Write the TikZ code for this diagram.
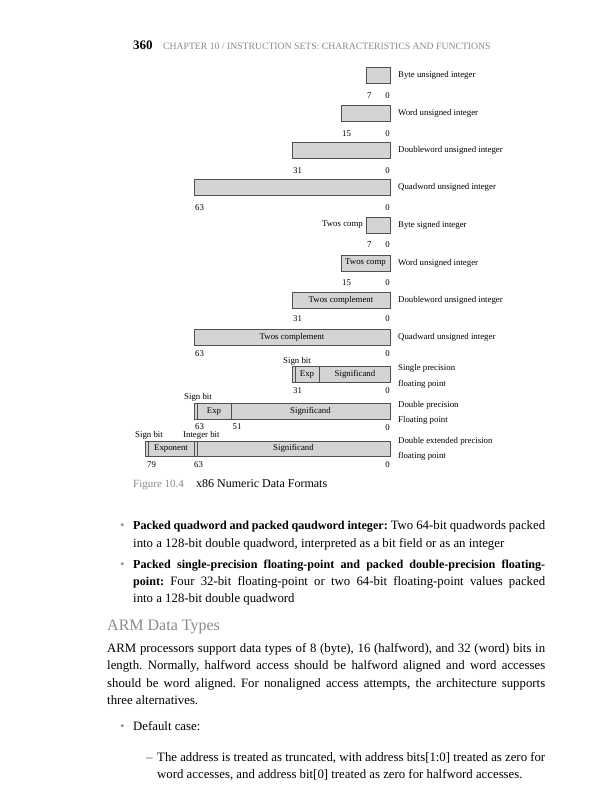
\documentclass[tikz,border=0pt]{standalone}
\usepackage{fontspec}
\setmainfont{Liberation Serif}
\frenchspacing
\definecolor{barfill}{HTML}{D4D4D4}
\definecolor{barline}{HTML}{505050}
\definecolor{headgray}{HTML}{8A8A8A}
\definecolor{bulgray}{HTML}{9A9A9A}
\newcommand\figlbl{\fontsize{8.8}{15.5}\selectfont}
\newcommand\bodytxt{\fontsize{12.8}{17.5}\selectfont}
\newcommand\bt[1]{{\fontsize{12.1}{17.5}\selectfont\bfseries #1}}
\begin{document}
\begin{tikzpicture}[x=1pt,y=-1pt,
  bar/.style={draw=barline, fill=barfill, line width=0.6pt, inner sep=0pt, outer sep=0pt, minimum height=16pt, anchor=north east, font=\figlbl},
  num/.style={inner sep=0pt, font=\figlbl, anchor=base west},
  numr/.style={inner sep=0pt, font=\figlbl, anchor=base east},
  desc/.style={inner sep=0pt, font=\figlbl, anchor=west, align=left},
  inlbl/.style={inner sep=0pt, font=\figlbl},
  divline/.style={draw=barline, line width=0.6pt},
  body/.style={inner sep=0pt, anchor=base west, font=\bodytxt},
  bul/.style={inner sep=0pt, anchor=base west, font=\fontsize{13}{14}\selectfont, text=bulgray}
]
\useasboundingbox (0,0) rectangle (604,800);
\fill[white] (0,0) rectangle (604,800);

% header
\node[inner sep=0pt, anchor=base west, font=\bfseries\fontsize{13}{15}\selectfont] (pg) at (133,49) {360};
\node[inner sep=0pt, anchor=base west, text=headgray, font=\fontsize{9.7}{11}\selectfont] (chap) at (163,49) {CHAPTER 10 / INSTRUCTION SETS: CHARACTERISTICS AND FUNCTIONS};

% unsigned integers
\node[bar, minimum width=24pt] (r1) at (390,67) {};
\node[num] (r1a) at ([shift={(1,15)}]r1.south west) {7};
\node[numr] (r1b) at ([shift={(0,15)}]r1.south east) {0};
\node[desc] (r1d) at ([xshift=8pt]r1.east) {Byte unsigned integer};

\node[bar, minimum width=49pt] (r2) at (390,105) {};
\node[num] (r2a) at ([shift={(1,15)}]r2.south west) {15};
\node[numr] (r2b) at ([shift={(0,15)}]r2.south east) {0};
\node[desc] (r2d) at ([xshift=8pt]r2.east) {Word unsigned integer};

\node[bar, minimum width=98pt] (r3) at (390,142) {};
\node[num] (r3a) at ([shift={(1,15)}]r3.south west) {31};
\node[numr] (r3b) at ([shift={(0,15)}]r3.south east) {0};
\node[desc] (r3d) at ([xshift=8pt]r3.east) {Doubleword unsigned integer};

\node[bar, minimum width=196pt] (r4) at (390,179) {};
\node[num] (r4a) at ([shift={(1,15)}]r4.south west) {63};
\node[numr] (r4b) at ([shift={(0,15)}]r4.south east) {0};
\node[desc] (r4d) at ([xshift=8pt]r4.east) {Quadword unsigned integer};

% signed integers
\node[bar, minimum width=24pt] (r5) at (390,217) {};
\node[inlbl, anchor=east] (r5t) at ([xshift=-3pt]r5.west) {Twos comp};
\node[num] (r5a) at ([shift={(1,14)}]r5.south west) {7};
\node[numr] (r5b) at ([shift={(0,14)}]r5.south east) {0};
\node[desc] (r5d) at ([xshift=8pt]r5.east) {Byte signed integer};

\node[bar, minimum width=49pt] (r6) at (390,255) {Twos comp};
\node[num] (r6a) at ([shift={(1,14)}]r6.south west) {15};
\node[numr] (r6b) at ([shift={(0,14)}]r6.south east) {0};
\node[desc] (r6d) at ([xshift=8pt]r6.east) {Word unsigned integer};

\node[bar, minimum width=98pt] (r7) at (390,292) {Twos complement};
\node[num] (r7a) at ([shift={(1,13.5)}]r7.south west) {31};
\node[numr] (r7b) at ([shift={(0,13.5)}]r7.south east) {0};
\node[desc] (r7d) at ([xshift=8pt]r7.east) {Doubleword unsigned integer};

\node[bar, minimum width=196pt] (r8) at (390,329.5) {Twos complement};
\node[num] (r8a) at ([shift={(1,11)}]r8.south west) {63};
\node[numr] (r8b) at ([shift={(0,11)}]r8.south east) {0};
\node[desc] (r8d) at ([xshift=8pt]r8.east) {Quadward unsigned integer};

% single precision
\node[bar, minimum width=98pt, minimum height=15.5pt] (r9) at (390,366.5) {};
\draw[divline] ([xshift=3pt]r9.north west) -- ([xshift=3pt]r9.south west);
\draw[divline] ([xshift=-70.5pt]r9.north east) -- ([xshift=-70.5pt]r9.south east);
\node[inlbl] (r9e) at (307,374.25) {Exp};
\node[inlbl] (r9s) at (355,374.25) {Significand};
\node[num] (r9sb) at (283,363) {Sign bit};
\node[num] (r9a) at ([shift={(1,11)}]r9.south west) {31};
\node[numr] (r9b) at ([shift={(0,11)}]r9.south east) {0};
\node[desc] (r9d) at ([xshift=8pt,yshift=-2pt]r9.east) {Single precision\\floating point};

% double precision
\node[bar, minimum width=196pt, minimum height=15.5pt] (r10) at (390,403.5) {};
\draw[divline] ([xshift=3pt]r10.north west) -- ([xshift=3pt]r10.south west);
\draw[divline] ([xshift=-159pt]r10.north east) -- ([xshift=-159pt]r10.south east);
\node[inlbl] (r10e) at (214,411.25) {Exp};
\node[inlbl] (r10s) at (310.5,411.25) {Significand};
\node[num] (r10sb) at (184,399.5) {Sign bit};
\node[num] (r10a) at ([shift={(1,10)}]r10.south west) {63};
\node[num] (r10c) at (232.5,429) {51};
\node[numr] (r10b) at ([shift={(0,11)}]r10.south east) {0};
\node[desc] (r10d) at ([xshift=8pt,yshift=-1.5pt]r10.east) {Double precision\\Floating point};

% double extended precision
\node[bar, minimum width=245pt, minimum height=15.5pt] (r11) at (390,441) {};
\draw[divline] ([xshift=3pt]r11.north west) -- ([xshift=3pt]r11.south west);
\draw[divline] ([xshift=-196pt]r11.north east) -- ([xshift=-196pt]r11.south east);
\draw[divline] ([xshift=-193pt]r11.north east) -- ([xshift=-193pt]r11.south east);
\node[inlbl] (r11e) at (171,448.75) {Exponent};
\node[inlbl] (r11s) at (293.5,448.75) {Significand};
\node[num] (r11sb) at (135,437.5) {Sign bit};
\node[num] (r11ib) at (183,437.5) {Integer bit};
\node[num] (r11a) at ([shift={(2,11)}]r11.south west) {79};
\node[num] (r11c) at (194,467.5) {63};
\node[numr] (r11b) at ([shift={(0,11)}]r11.south east) {0};
\node[desc] (r11d) at ([xshift=8pt]r11.east) {Double extended precision\\floating point};

% caption
\node[inner sep=0pt, anchor=base west, text=headgray, font=\fontsize{11}{13}\selectfont] (fig) at (133,487.5) {Figure 10.4};
\node[inner sep=0pt, anchor=base west, font=\fontsize{12}{14}\selectfont] (cap) at (196,487.5) {x86 Numeric Data Formats};

% bullets
\node[bul] (b1) at (120,529) {\textbullet};
\node[body] (l1) at (133,529) {\makebox[412pt][s]{\bt{Packed quadword and packed qaudword integer:} Two 64-bit quadwords packed}};
\node[body] (l2) at (133,547) {into a 128-bit double quadword, interpreted as a bit field or as an integer};
\node[bul] (b2) at (120,568) {\textbullet};
\node[body] (l3) at (133,568) {\makebox[412pt][s]{\bt{Packed single-precision floating-point and packed double-precision floating-}}};
\node[body] (l4) at (133,585) {\makebox[412pt][s]{\bt{point:} Four 32-bit floating-point or two 64-bit floating-point values packed}};
\node[body] (l5) at (133,602) {into a 128-bit double quadword};

% heading
\node[inner sep=0pt, anchor=base west, text=headgray, font=\fontsize{16}{18}\selectfont] (h) at (107,630) {ARM Data Types};

% paragraph
\node[body] (p1) at (107,652) {\makebox[438pt][s]{ARM processors support data types of 8 (byte), 16 (halfword), and 32 (word) bits in}};
\node[body] (p2) at (107,669.5) {\makebox[438pt][s]{length. Normally, halfword access should be halfword aligned and word accesses}};
\node[body] (p3) at (107,687) {\makebox[438pt][s]{should be word aligned. For nonaligned access attempts, the architecture supports}};
\node[body] (p4) at (107,704.5) {three alternatives.};

\node[bul] (b3) at (120,730) {\textbullet};
\node[body] (d1) at (133,730) {Default case:};
\node[body, text=black!70] (dash) at (146,761) {--};
\node[body] (d2) at (157,761) {\makebox[388pt][s]{The address is treated as truncated, with address bits[1:0] treated as zero for}};
\node[body] (d3) at (157,778) {word accesses, and address bit[0] treated as zero for halfword accesses.};
\end{tikzpicture}
\end{document}
